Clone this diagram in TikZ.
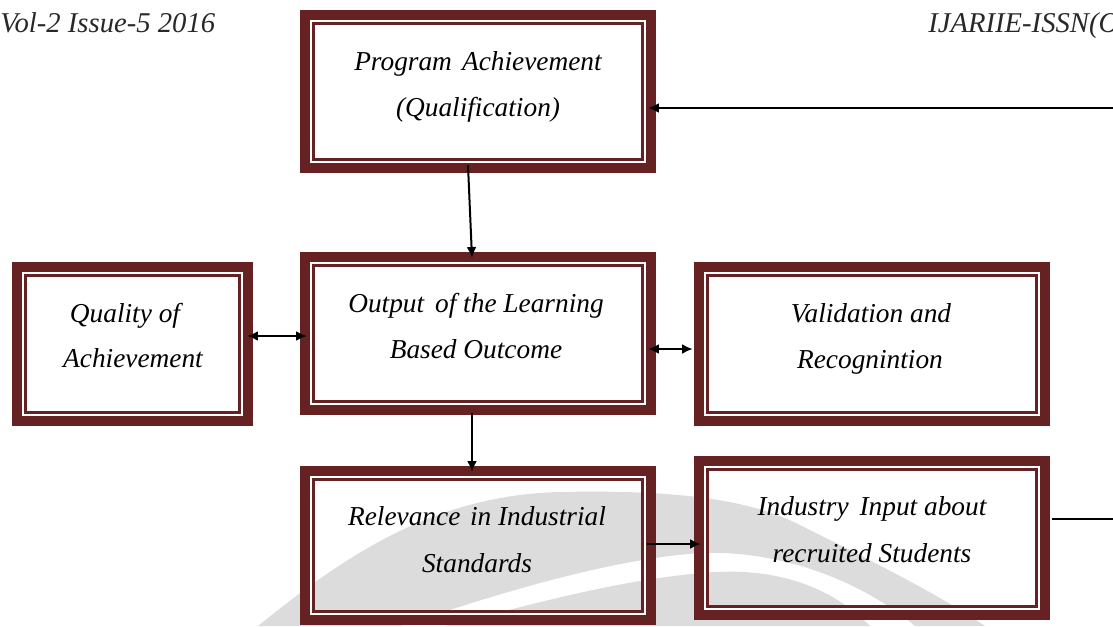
\documentclass[tikz,border=0pt]{standalone}
\usepackage{fontspec}
\setmainfont{Liberation Serif}
\usetikzlibrary{arrows.meta,calc}
\definecolor{framered}{RGB}{102,34,34}
\definecolor{wmgray}{RGB}{220,220,220}
\definecolor{headgray}{RGB}{40,40,40}

\begin{document}
\begin{tikzpicture}[x=0.75pt,y=-0.75pt,
  boxframe/.style={rectangle, inner sep=0pt, path picture={
     \draw[framered, line width=7.5pt]
       ([shift={(3.75pt,-3.75pt)}]path picture bounding box.north west) rectangle
       ([shift={(-3.75pt,3.75pt)}]path picture bounding box.south east);
     \draw[white, line width=1.5pt]
       ([shift={(8.25pt,-8.25pt)}]path picture bounding box.north west) rectangle
       ([shift={(-8.25pt,8.25pt)}]path picture bounding box.south east);
     \draw[framered, line width=2pt]
       ([shift={(10pt,-10pt)}]path picture bounding box.north west) rectangle
       ([shift={(-10pt,10pt)}]path picture bounding box.south east);
  }},
  lbl/.style={anchor=base, inner sep=0pt, font=\fontsize{20.5pt}{24pt}\selectfont\itshape},
  head/.style={anchor=base west, inner sep=0pt, text=headgray, font=\fontsize{21.5pt}{24pt}\selectfont\itshape},
  arr/.style={line width=1.5pt, -{Latex[length=8pt,width=7.5pt]}},
  arrtwo/.style={line width=1.5pt, {Latex[length=8pt,width=7.5pt]}-{Latex[length=8pt,width=7.5pt]}},
  plainline/.style={line width=1.5pt},
]
\useasboundingbox (0,0) rectangle (1113,626);

% watermark swoosh behind the lower boxes
\fill[wmgray] (258,626) .. controls (340,560) and (430,495) .. (560,492)
  .. controls (700,489) and (760,505) .. (800,525)
  .. controls (870,560) and (940,595) .. (985,626)
  -- (915,626) .. controls (860,580) and (780,550) .. (700,553)
  .. controls (600,560) and (480,600) .. (400,626) -- cycle;
\fill[wmgray] (445,626) .. controls (520,608) and (620,578) .. (715,572)
  .. controls (790,568) and (840,595) .. (870,626) -- cycle;

% running header
\node[head] (hl) at (0,32) {Vol-2 Issue-5 2016};
\node[head] (hr) at (928,32) {IJARIIE-ISSN(O};

% framed boxes
\node[boxframe, minimum width=267pt, minimum height=122.25pt] (A) at (478,91.5) {};
\node[boxframe, minimum width=180.75pt, minimum height=123pt] (B) at (132.5,344) {};
\node[boxframe, minimum width=267pt, minimum height=122.25pt] (C) at (478,333.5) {};
\node[boxframe, minimum width=267pt, minimum height=123pt] (D) at (872,344) {};
\node[boxframe, minimum width=267pt, minimum height=119.25pt] (E) at (478,545.5) {};
\node[boxframe, minimum width=267pt, minimum height=123pt] (F) at (872,538) {};

% box texts
\node[lbl] (A1) at (478,70) {Program\hspace{0.12em} Achievement};
\node[lbl] (A2) at (478,116) {(Qualification)};
\node[lbl] (B1) at (125,322) {Quality of};
\node[lbl] (B2) at (133,367) {Achievement};
\node[lbl] (C1) at (476,312) {Output\hspace{0.15em} of the Learning};
\node[lbl] (C2) at (476,358) {Based Outcome};
\node[lbl] (D1) at (871,322) {Validation and};
\node[lbl] (D2) at (870,368) {Recognintion};
\node[lbl] (E1) at (477,525) {Relevance\hspace{0.1em} in Industrial};
\node[lbl] (E2) at (477,572) {Standards};
\node[lbl] (F1) at (872,515) {Industry\hspace{0.15em} Input about};
\node[lbl] (F2) at (872,562) {recruited Students};

% connectors
\coordinate (rtop) at (1113,108);
\coordinate (rlow) at (1113,519);
\draw[arr] ($(A.south)+(-10,-8)$) -- ($(C.north)+(-6,6)$);
\draw[arrtwo] ($(B.east)+(-6,-8)$) -- ($(C.west|-B.east)+(7,-8)$);
\draw[arrtwo] ($(C.east)+(-8,15.5)$) -- ($(D.west|-C.east)+(-1,15.5)$);
\draw[arr] ($(C.south)+(-6,-2)$) -- ($(E.north)+(-6,6)$);
\draw[arr] ($(E.east)+(-9,-1.5)$) -- ($(F.west|-E.east)+(7,-1.5)$);
\draw[plainline] ($(F.east|-rlow)+(2,0)$) -- (rlow);
\draw[arr] (rtop) -- ($(A.east|-rtop)+(-8,0)$);

\end{tikzpicture}
\end{document}
